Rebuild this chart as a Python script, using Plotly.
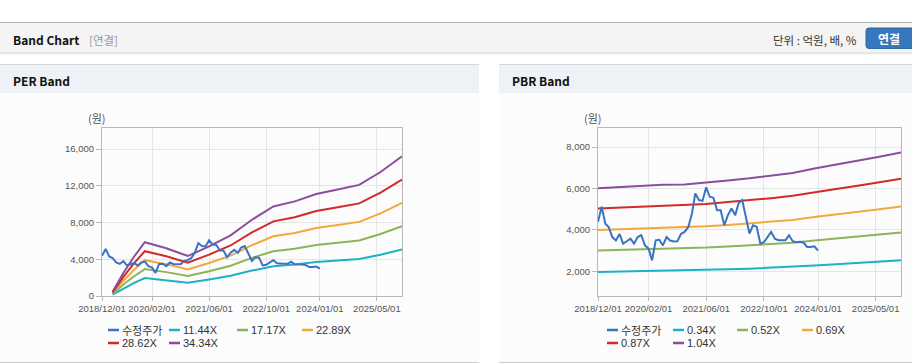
import plotly.graph_objects as go

W, H = 912, 364

# ---------------- data ----------------
price_dates = [f"{y}-{m:02d}-01" for y, m in
               [(2018, 12)] + [(yy, mm) for yy in range(2019, 2024) for mm in range(1, 13)] + [(2024, 1)]]
price = [4385, 5115, 4300, 4140, 3650, 3490, 3800, 3330, 3450, 3570, 3330, 3650, 3740, 3250, 3090,
         2520, 3490, 3520, 3250, 3650, 3480, 3440, 3450, 3810, 3900, 4140, 4790, 5760, 5440, 5400,
         6060, 5600, 5550, 4950, 4950, 4220, 4710, 5030, 4710, 5280, 5440, 4630, 3820, 4220, 4150,
         3330, 3400, 3650, 3900, 3570, 3500, 3500, 3500, 3740, 3450, 3400, 3420, 3380, 3170, 3170,
         3200, 2990]

per_dates = ["2019-03-01", "2019-06-01", "2019-09-01", "2019-12-01", "2020-06-01", "2020-12-01",
             "2021-06-01", "2021-12-01", "2022-06-01", "2022-12-01", "2023-06-01", "2023-12-01",
             "2024-06-01", "2024-12-01", "2025-06-01", "2025-12-01"]
per_11_44 = [150, 833, 1433, 1950, 1733, 1450, 1800, 2200, 2767, 3250, 3433, 3700, 3867, 4033, 4500, 5067]
per_17_17 = [225, 1250, 2150, 2925, 2600, 2175, 2700, 3300, 4150, 4875, 5150, 5550, 5800, 6050, 6750, 7600]
per_22_89 = [300, 1667, 2867, 3900, 3467, 2900, 3600, 4400, 5533, 6500, 6867, 7400, 7733, 8067, 9000, 10133]
per_28_62 = [375, 2083, 3583, 4875, 4333, 3625, 4500, 5500, 6917, 8125, 8583, 9250, 9667, 10083, 11250, 12667]
per_34_34 = [450, 2500, 4300, 5850, 5200, 4350, 5400, 6600, 8300, 9750, 10300, 11100, 11600, 12100, 13500, 15200]

pbr_dates = ["2018-12-01", "2019-06-01", "2019-12-01", "2020-06-01", "2020-12-01", "2021-06-01",
             "2021-12-01", "2022-06-01", "2022-12-01", "2023-06-01", "2023-12-01", "2024-06-01",
             "2024-12-01", "2025-06-01", "2025-12-01"]
pbr_0_34 = [1965, 1982, 2006, 2020, 2026, 2054, 2088, 2122, 2162, 2207, 2278, 2336, 2397, 2462, 2530]
pbr_0_52 = [3006, 3032, 3068, 3089, 3099, 3141, 3193, 3245, 3307, 3375, 3484, 3572, 3666, 3765, 3869]
pbr_0_69 = [3988, 4023, 4071, 4099, 4112, 4168, 4237, 4306, 4388, 4478, 4623, 4740, 4865, 4996, 5134]
pbr_0_87 = [5029, 5072, 5133, 5168, 5185, 5255, 5342, 5429, 5533, 5646, 5829, 5977, 6134, 6299, 6473]
pbr_1_04 = [6011, 6063, 6136, 6178, 6198, 6282, 6386, 6490, 6614, 6750, 6968, 7145, 7332, 7530, 7738]

per_names = ["수정주가", "11.44X", "17.17X", "22.89X", "28.62X", "34.34X"]
pbr_names = ["수정주가", "0.34X", "0.52X", "0.69X", "0.87X", "1.04X"]
colors = ["#3b73c2", "#1cb2c6", "#8db457", "#f2a93b", "#d02a2a", "#8c4e9b"]

x_tickvals = ["2018-12-01", "2020-02-01", "2021-06-01", "2022-10-01", "2024-01-01", "2025-05-01"]
x_ticktext = ["2018/12/01", "2020/02/01", "2021/06/01", "2022/10/01", "2024/01/01", "2025/05/01"]
per_yticks = [0, 4000, 8000, 12000, 16000]
pbr_yticks = [2000, 4000, 6000, 8000]

# ---------------- helpers ----------------
def px(x):
    return x / W

def py(y):
    return 1 - y / H

fig = go.Figure()

per_series = [(price_dates, price), (per_dates, per_11_44), (per_dates, per_17_17),
              (per_dates, per_22_89), (per_dates, per_28_62), (per_dates, per_34_34)]
pbr_series = [(price_dates, price), (pbr_dates, pbr_0_34), (pbr_dates, pbr_0_52),
              (pbr_dates, pbr_0_69), (pbr_dates, pbr_0_87), (pbr_dates, pbr_1_04)]

order = [1, 2, 3, 4, 5, 0]
for i in order:
    xs, ys = per_series[i]
    fig.add_trace(go.Scatter(x=xs, y=ys, mode="lines", name=per_names[i],
                             line=dict(color=colors[i], width=2), showlegend=False,
                             xaxis="x", yaxis="y"))
for i in order:
    xs, ys = pbr_series[i]
    fig.add_trace(go.Scatter(x=xs, y=ys, mode="lines", name=pbr_names[i],
                             line=dict(color=colors[i], width=2), showlegend=False,
                             xaxis="x2", yaxis="y2"))

TICKFONT = dict(family="Liberation Sans, Arial, sans-serif", size=9.5, color="#555555")
axis_common = dict(showgrid=True, gridcolor="#e6e6e6", gridwidth=1, showline=True,
                   linecolor="#b8b8b8", linewidth=1, mirror=True, ticks="outside",
                   tickcolor="#b8b8b8", zeroline=False, tickfont=TICKFONT, automargin=False)

xcommon = dict(type="date", range=["2018-12-01", "2025-12-01"], tickvals=x_tickvals,
               ticktext=x_ticktext, ticklen=4, tickangle=0, **axis_common)

fig.update_layout(
    width=W, height=H, margin=dict(l=0, r=0, t=0, b=0, pad=0, autoexpand=False),
    paper_bgcolor="#ffffff", plot_bgcolor="#fdfdfd", showlegend=False,
    xaxis=dict(domain=[px(102), px(402)], anchor="y", **xcommon),
    yaxis=dict(domain=[py(296), py(128)], anchor="x", range=[0, 18290], tickvals=per_yticks,
               tickformat=",", ticklen=5, **axis_common),
    xaxis2=dict(domain=[px(598), px(901)], anchor="y2", **xcommon),
    yaxis2=dict(domain=[py(296), py(128)], anchor="x2", range=[800, 8925], tickvals=pbr_yticks,
                tickformat=",", ticklen=5, **axis_common),
)

shapes = []
annos = []

def rect(x0, y0, x1, y1, fill, line=None, layer="below"):
    shapes.append(dict(type="rect", xref="paper", yref="paper", x0=px(x0), x1=px(x1),
                       y0=py(y1), y1=py(y0), fillcolor=fill,
                       line=dict(width=0) if line is None else line, layer=layer))

def hline(x0, x1, y, color, width=1, layer="below"):
    shapes.append(dict(type="line", xref="paper", yref="paper", x0=px(x0), x1=px(x1),
                       y0=py(y), y1=py(y), line=dict(color=color, width=width), layer=layer))

def rounded(x0, y0, x1, y1, r, fill, edge):
    pts = (f"M{px(x0 + r)},{py(y0)} L{px(x1 - r)},{py(y0)} Q{px(x1)},{py(y0)} {px(x1)},{py(y0 + r)} "
           f"L{px(x1)},{py(y1 - r)} Q{px(x1)},{py(y1)} {px(x1 - r)},{py(y1)} "
           f"L{px(x0 + r)},{py(y1)} Q{px(x0)},{py(y1)} {px(x0)},{py(y1 - r)} "
           f"L{px(x0)},{py(y0 + r)} Q{px(x0)},{py(y0)} {px(x0 + r)},{py(y0)} Z")
    shapes.append(dict(type="path", xref="paper", yref="paper", path=pts, fillcolor=fill,
                       line=dict(color=edge, width=1), layer="below"))

def text(x, y, s, size=12, color="#222", bold=False, anchor="left", family="Noto Sans CJK KR"):
    annos.append(dict(xref="paper", yref="paper", x=px(x), y=py(y), text=f"<b>{s}</b>" if bold else s,
                      showarrow=False, xanchor=anchor, yanchor="middle", borderpad=0,
                      font=dict(family=family, size=size, color=color)))

# page header bar
rect(0, 23, 912, 52.5, "#f4f4f4")
hline(0, 912, 22.5, "#b3b3b3")
hline(0, 912, 53, "#d2d2d2")
hline(0, 912, 54, "#ececec")
text(12, 39.5, "Band Chart", size=12, color="#111111", bold=True)
text(88, 39.5, "[연결]", size=11.5, color="#999999")
text(858, 39.5, "단위 : 억원, 배, %", size=11.5, color="#333333", anchor="right")
rounded(866, 28, 922, 48.5, 3, "#3677bd", "#2c69aa")
text(889, 38.5, "연결", size=12, color="#ffffff", bold=True, anchor="center")

# panels
for (x0, x1, title) in [(0, 479, "PER Band"), (499, 912, "PBR Band")]:
    rect(x0, 64.5, x1, 93, "#eef1f6")
    hline(x0, x1, 64.5, "#d3d7dd")
    rect(x0, 93, x1, 362, "#fcfcfc")
    hline(x0, x1, 362.5, "#cfcfcf")
    text(x0 + 12, 80, title, size=12, color="#111111", bold=True)

# y-axis unit labels
text(97, 118, "(원)", size=11, color="#555555", anchor="center")
text(593, 118, "(원)", size=11, color="#555555", anchor="center")

# legends
def legend(names, cols):
    slots = [(cols[0], 330), (cols[1], 330), (cols[2], 330), (cols[3], 330), (cols[0], 343), (cols[1], 343)]
    for i, nm in enumerate(names):
        sx, sy = slots[i]
        hline(sx, sx + 11, sy, colors[i], width=2.5, layer="above")
        text(sx + 13, sy, nm, size=11, color="#333333",
             family="Noto Sans CJK KR" if i == 0 else "Liberation Sans, Arial, sans-serif")

legend(per_names, [108, 169, 237, 302])
legend(pbr_names, [607, 673, 737, 802])

fig.update_layout(shapes=shapes, annotations=annos)
fig.write_html("out.html", config={"displayModeBar": False},
               post_script="document.body.style.margin='0';document.body.style.overflow='hidden';")
